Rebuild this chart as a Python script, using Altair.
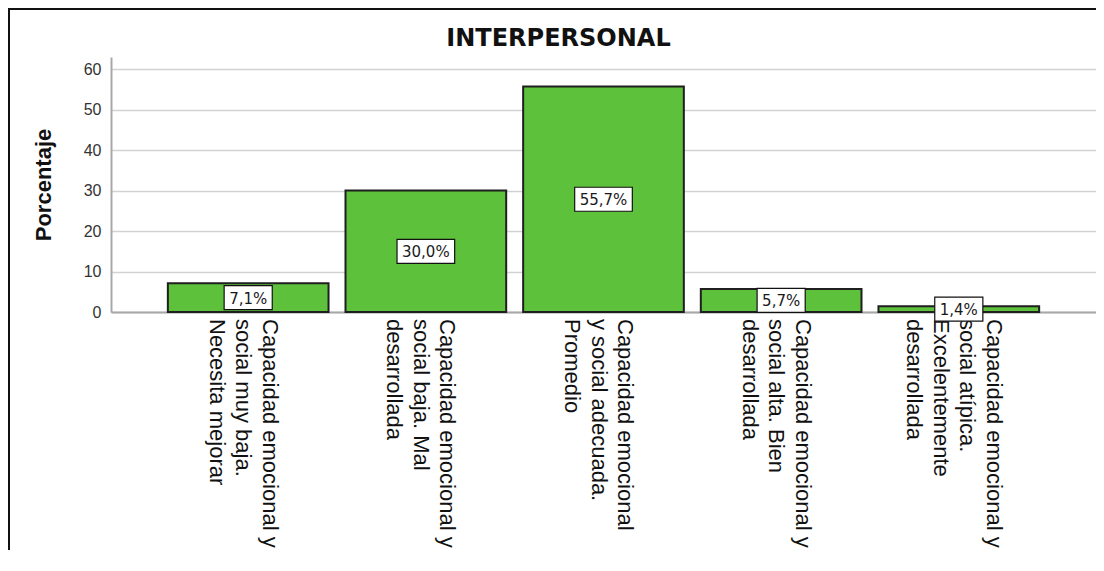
import altair as alt
import pandas as pd

# ---- data ----
categories = [
    "Capacidad emocional y|social muy baja.|Necesita mejorar",
    "Capacidad emocional y|social baja. Mal|desarrollada",
    "Capacidad emocional|y social adecuada.|Promedio",
    "Capacidad emocional y|social alta. Bien|desarrollada",
    "Capacidad emocional y|social atípica.|Excelentemente|desarrollada",
]
percentages = [7.1, 30.0, 55.7, 5.7, 1.4]
value_labels = ["7,1%", "30,0%", "55,7%", "5,7%", "1,4%"]
y_ticks = [0, 10, 20, 30, 40, 50, 60]
title_text = "INTERPERSONAL"
y_title = "Porcentaje"

# ---- layout ----
W, H = 985, 255
PAD = {"left": 103, "top": 49, "right": 0, "bottom": 238}
LABEL_FS = 15
BOX_H = 24
XL_FS = 22
XL_LH = 26.5


def text_width(s, fs):
    w = 0.0
    for c in s:
        if c == ",":
            w += 0.318
        elif c == "%":
            w += 0.950
        else:
            w += 0.636
    return w * fs


df = pd.DataFrame({"cat": categories, "pct": percentages, "lbl": value_labels})
df["mid"] = df["pct"] / 2
box_w = df["lbl"].apply(lambda s: text_width(s, LABEL_FS) + 10)
df["size"] = box_w ** 2
df["shape"] = [
    f"M-1,-{BOX_H / w:.4f}L1,-{BOX_H / w:.4f}L1,{BOX_H / w:.4f}L-1,{BOX_H / w:.4f}Z"
    for w in box_w
]
df["nlines"] = df["cat"].str.count(r"\|") + 1

x_scale = alt.Scale(paddingInner=0.0955, paddingOuter=0.32)
y_scale = alt.Scale(domain=[0, 63], nice=False)

x_axis = alt.Axis(
    title=None,
    labels=False,
    ticks=False,
    tickSize=0,
    domainColor="#a8a8a8",
    domainWidth=2,
    grid=False,
)

y_axis = alt.Axis(
    values=y_ticks,
    title=y_title,
    titleFont="Liberation Sans",
    titleFontSize=22,
    titleFontWeight="bold",
    titleColor="#111111",
    titleAngle=-90,
    titleAlign="center",
    titleBaseline="alphabetic",
    titleX=-61,
    titleY=H / 2,
    labelFont="Liberation Sans",
    labelFontSize=16,
    labelColor="#333333",
    labelPadding=10,
    ticks=False,
    tickSize=0,
    domainColor="#a8a8a8",
    domainWidth=2,
    grid=True,
    gridColor="#d2d2d2",
    gridWidth=1.6,
)

x_enc = alt.X("cat:N", sort=categories, scale=x_scale, axis=x_axis)

bars = alt.Chart(df).mark_bar(
    fill="#5DC13B", stroke="#1f1f1f", strokeWidth=2
).encode(x=x_enc, y=alt.Y("pct:Q", scale=y_scale, axis=y_axis))

boxes = alt.Chart(df).mark_point(
    filled=True, fill="white", stroke="#111111", strokeWidth=1.2, opacity=1
).encode(
    x=x_enc,
    y=alt.Y("mid:Q", scale=y_scale, axis=y_axis),
    size=alt.Size("size:Q", scale=None, legend=None),
    shape=alt.Shape("shape:N", scale=None, legend=None),
)

labels = alt.Chart(df).mark_text(
    font="DejaVu Sans", fontSize=LABEL_FS, color="#1a1a1a",
    align="center", baseline="middle", dy=1
).encode(
    x=x_enc,
    y=alt.Y("mid:Q", scale=y_scale, axis=y_axis),
    text="lbl:N",
)

# category labels: rotated multi-line text under each bar
cat_layers = []
for n in sorted(df["nlines"].unique()):
    sub = df[df["nlines"] == n][["cat"]]
    shift = (n - 1) / 2 * XL_LH - 5
    cat_layers.append(
        alt.Chart(sub)
        .transform_calculate(lines="split(datum.cat, '|')")
        .mark_text(
            font="Liberation Sans", fontSize=XL_FS, lineHeight=XL_LH,
            color="#111111", angle=90, align="left", baseline="middle",
            dy=-shift,
        )
        .encode(
            x=x_enc,
            y=alt.value(H + 7),
            text=alt.Text("lines:N"),
        )
    )

title_df = pd.DataFrame({"t": [title_text]})
title = alt.Chart(title_df).mark_text(
    font="DejaVu Sans", fontSize=24, fontWeight="bold", color="#111111",
    align="center", baseline="alphabetic"
).encode(
    x=alt.value(447.5),
    y=alt.value(-11),
    text="t:N",
)

frame_df = pd.DataFrame({"k": [0]})
left_border = alt.Chart(frame_df).mark_rule(color="#111111", strokeWidth=2).encode(
    x=alt.value(-102),
    y=alt.value(-48),
    y2=alt.value(H + PAD["bottom"]),
)
top_border = alt.Chart(frame_df).mark_rule(color="#111111", strokeWidth=2).encode(
    x=alt.value(-103),
    x2=alt.value(W + PAD["right"]),
    y=alt.value(-48),
)

chart = alt.layer(
    bars, *cat_layers, boxes, labels, title, left_border, top_border
).properties(
    width=W,
    height=H,
    padding=PAD,
    autosize=alt.AutoSizeParams(type="none"),
    background="white",
).configure_view(stroke=None)

chart.save("out.html", embed_options={"renderer": "svg", "actions": False})
